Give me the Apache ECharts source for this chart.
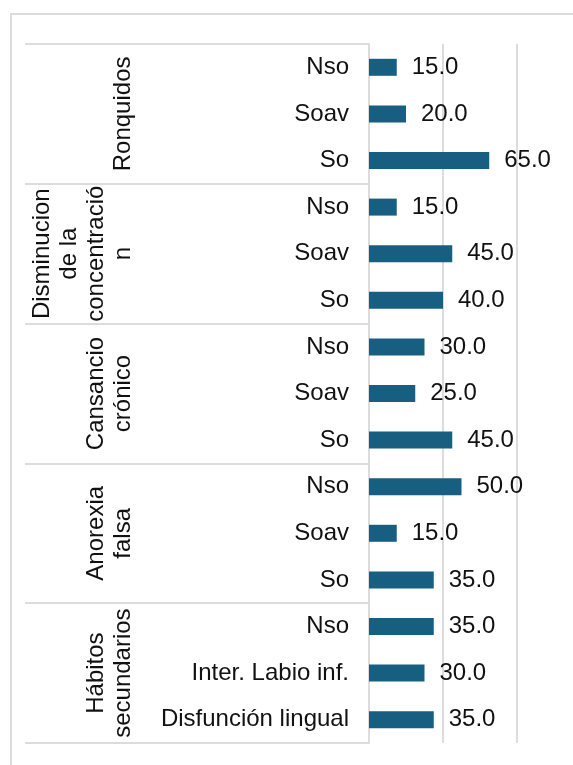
<!DOCTYPE html>
<html>
<head>
<meta charset="utf-8">
<script src="https://cdn.jsdelivr.net/npm/echarts@6/dist/echarts.min.js"></script>
<style>
  html, body { margin: 0; padding: 0; background: #fff; }
  #chart { width: 573px; height: 765px; }
</style>
</head>
<body>
<div id="chart"></div>
<script>
// Symptom groups (outer axis), one per block of rows
const groups = [
  'Ronquidos',
  'Disminucion\nde la\nconcentració\nn',
  'Cansancio\ncrónico',
  'Anorexia\nfalsa',
  'Hábitos\nsecundarios'
];

// Row labels (inner axis), top to bottom
const rows = [
  'Nso', 'Soav', 'So',
  'Nso', 'Soav', 'So',
  'Nso', 'Soav', 'So',
  'Nso', 'Soav', 'So',
  'Nso', 'Inter. Labio inf.', 'Disfunción lingual'
];

// Percentages per row
const values = [
  15, 20, 65,
  15, 45, 40,
  30, 25, 45,
  50, 15, 35,
  35, 30, 35
];

const FONT = "'Liberation Sans', Arial, sans-serif";
const GRID_GREY = '#dcdcdc';
const BAR_COLOR = '#185e80';
const TEXT = '#111';
const FS = 24;

const chart = echarts.init(document.getElementById('chart'), null, { renderer: 'canvas' });

chart.setOption({
  animation: false,
  backgroundColor: '#fff',
  textStyle: { fontFamily: FONT },
  graphic: [{
    type: 'rect',
    silent: true,
    shape: { x: 11, y: 14, width: 700, height: 900 },
    style: { fill: 'none', stroke: GRID_GREY, lineWidth: 2 }
  }],
  grid: {
    left: 369,
    right: 56,
    top: 44,
    bottom: 22,
    containLabel: false,
    outerBoundsMode: 'none'
  },
  xAxis: {
    type: 'value',
    min: 0,
    max: 80,
    interval: 40,
    axisLine: { show: false },
    axisTick: { show: false },
    axisLabel: { show: false },
    splitLine: { show: true, lineStyle: { color: GRID_GREY, width: 2 } }
  },
  yAxis: [{
    type: 'category',
    data: rows,
    inverse: true,
    position: 'left',
    axisLine: { show: true, lineStyle: { color: GRID_GREY, width: 2 } },
    axisTick: { show: false },
    splitLine: { show: false },
    axisLabel: {
      interval: 0,
      margin: 20,
      fontSize: FS,
      color: TEXT,
      fontFamily: FONT
    }
  }, {
    type: 'category',
    data: groups,
    inverse: true,
    position: 'left',
    axisLine: { show: false },
    axisTick: {
      show: true,
      interval: 0,
      length: 344,
      lineStyle: { color: GRID_GREY, width: 2 }
    },
    splitLine: { show: false },
    axisLabel: {
      interval: 0,
      rotate: 90,
      margin: 232,
      fontSize: FS,
      lineHeight: 27,
      color: TEXT,
      fontFamily: FONT,
      align: 'center'
    }
  }],
  series: [{
    type: 'bar',
    yAxisIndex: 0,
    data: values,
    barWidth: 17,
    itemStyle: { color: BAR_COLOR },
    label: {
      show: true,
      position: 'right',
      distance: 15,
      fontSize: FS,
      color: TEXT,
      fontFamily: FONT,
      formatter: p => p.value.toFixed(1)
    }
  }]
});
</script>
</body>
</html>
